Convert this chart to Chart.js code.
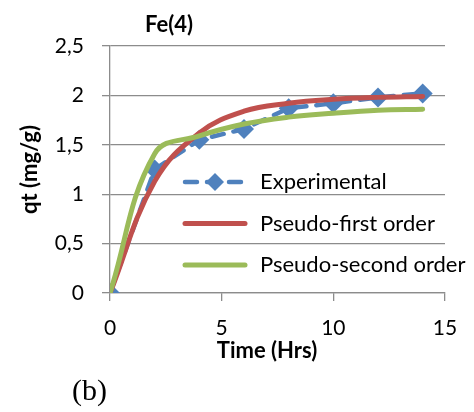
<!DOCTYPE html>
<html lang="en">
<head>
<meta charset="UTF-8">
<title>Fe(4) kinetics</title>
<script src="https://cdn.jsdelivr.net/npm/chart.js"></script>
<style>
  html, body { margin: 0; padding: 0; background: #fff; }
  #wrap { width: 474px; height: 412px; }
</style>
</head>
<body>
<div id="wrap"><canvas id="kinetique" width="474" height="412"></canvas></div>
<script>
  // Data
  const temps = [0, 2, 4, 6, 8, 10, 12, 14];
  const experimental = [0, 1.25, 1.55, 1.66, 1.87, 1.92, 1.98, 2.02];
  const pseudoFirst = [0, 1.13, 1.62, 1.84, 1.92, 1.96, 1.98, 1.99];
  const pseudoSecond = [0, 1.41, 1.59, 1.71, 1.78, 1.82, 1.85, 1.86];
  const xTicks = [0, 5, 10, 15];
  const yTicks = [0, 0.5, 1, 1.5, 2, 2.5];

  const BLEU = "#4F81BD";
  const ROUGE = "#C0504D";
  const VERT = "#9BBB59";
  const GRIS = "#8c8c8c";
  const POLICE = "Lato, 'Open Sans', sans-serif";

  const points = (ys) => temps.map((t, i) => ({ x: t, y: ys[i] }));

  // Légende, titre et textes hors axes, dessinés sur le canvas
  const decor = {
    id: "decor",
    afterDraw(chart) {
      const ctx = chart.ctx;
      const a = chart.chartArea;
      ctx.save();

      ctx.fillStyle = "#000";
      ctx.textAlign = "left";
      ctx.textBaseline = "middle";
      ctx.font = "bold 22px " + POLICE;
      ctx.fillText("Fe(4)", 145, 25);

      ctx.textAlign = "center";
      ctx.fillText("Time (Hrs)", 267, 351);

      ctx.textAlign = "left";
      ctx.font = "30px 'Liberation Serif', serif";
      ctx.fillText("(b)", 72, 392);

      const x0 = a.left + 73, x1 = a.left + 137, y0 = a.top + 136, pas = 41.5;
      chart.data.datasets.forEach((ds, i) => {
        const y = y0 + i * pas;
        ctx.strokeStyle = ds.borderColor;
        ctx.lineWidth = ds.borderWidth;
        ctx.lineCap = ds.borderCapStyle || "butt";
        ctx.setLineDash(ds.borderDash || []);
        ctx.beginPath();
        ctx.moveTo(x0 + 2, y);
        ctx.lineTo(x1 - 2, y);
        ctx.stroke();
        ctx.setLineDash([]);
        if (ds.pointRadius > 0) {
          const r = ds.pointRadius - 1;
          const cx = (x0 + x1) / 2;
          ctx.fillStyle = ds.pointBackgroundColor;
          ctx.beginPath();
          ctx.moveTo(cx, y - r);
          ctx.lineTo(cx + r, y);
          ctx.lineTo(cx, y + r);
          ctx.lineTo(cx - r, y);
          ctx.closePath();
          ctx.fill();
        }
        ctx.fillStyle = "#000";
        ctx.font = "22px " + POLICE;
        ctx.textBaseline = "middle";
        ctx.fillText(ds.label, a.left + 150, y);
      });
      ctx.restore();
    }
  };

  new Chart(document.getElementById("kinetique"), {
    type: "scatter",
    data: {
      datasets: [
        {
          label: "Experimental",
          data: points(experimental),
          showLine: true,
          borderColor: BLEU,
          backgroundColor: BLEU,
          borderWidth: 4.5,
          borderDash: [12, 10],
          borderCapStyle: "round",
          tension: 0,
          pointStyle: "rectRot",
          pointRadius: 10,
          pointBackgroundColor: BLEU,
          pointBorderColor: BLEU,
          pointBorderWidth: 0,
          order: 3
        },
        {
          label: "Pseudo-first order",
          data: points(pseudoFirst),
          showLine: true,
          borderColor: ROUGE,
          borderWidth: 5,
          borderCapStyle: "round",
          tension: 0.4,
          pointRadius: 0,
          order: 2
        },
        {
          label: "Pseudo-second order",
          data: points(pseudoSecond),
          showLine: true,
          borderColor: VERT,
          borderWidth: 5,
          borderCapStyle: "round",
          tension: 0.4,
          pointRadius: 0,
          order: 1
        }
      ]
    },
    options: {
      responsive: false,
      animation: false,
      layout: { padding: { left: 0, top: 46, right: 29, bottom: 52 } },
      plugins: {
        legend: { display: false },
        tooltip: { enabled: false },
        title: { display: false }
      },
      scales: {
        x: {
          type: "linear",
          min: 0,
          max: 15,
          afterBuildTicks(scale) { scale.ticks = xTicks.map(v => ({ value: v })); },
          afterFit(scale) { scale.height = 67; },
          grid: { drawOnChartArea: false, drawTicks: true, tickLength: 8, color: GRIS, lineWidth: 1.3 },
          border: { color: GRIS, width: 1.3 },
          ticks: { color: "#000", font: { family: POLICE, size: 21 }, padding: 15, maxRotation: 0 }
        },
        y: {
          min: 0,
          max: 2.5,
          afterBuildTicks(scale) { scale.ticks = yTicks.map(v => ({ value: v })); },
          afterFit(scale) { scale.width = 110; },
          grid: { color: GRIS, lineWidth: 1.3, drawTicks: true, tickLength: 8 },
          border: { color: GRIS, width: 1.3 },
          ticks: {
            color: "#000",
            font: { family: POLICE, size: 21 },
            padding: 18,
            callback: v => String(v).replace(".", ",")
          },
          title: {
            display: true,
            text: "qt (mg/g)",
            color: "#000",
            font: { family: POLICE, size: 22, weight: "bold" },
            padding: { top: 17, bottom: 0 }
          }
        }
      }
    },
    plugins: [decor]
  });
</script>
</body>
</html>
